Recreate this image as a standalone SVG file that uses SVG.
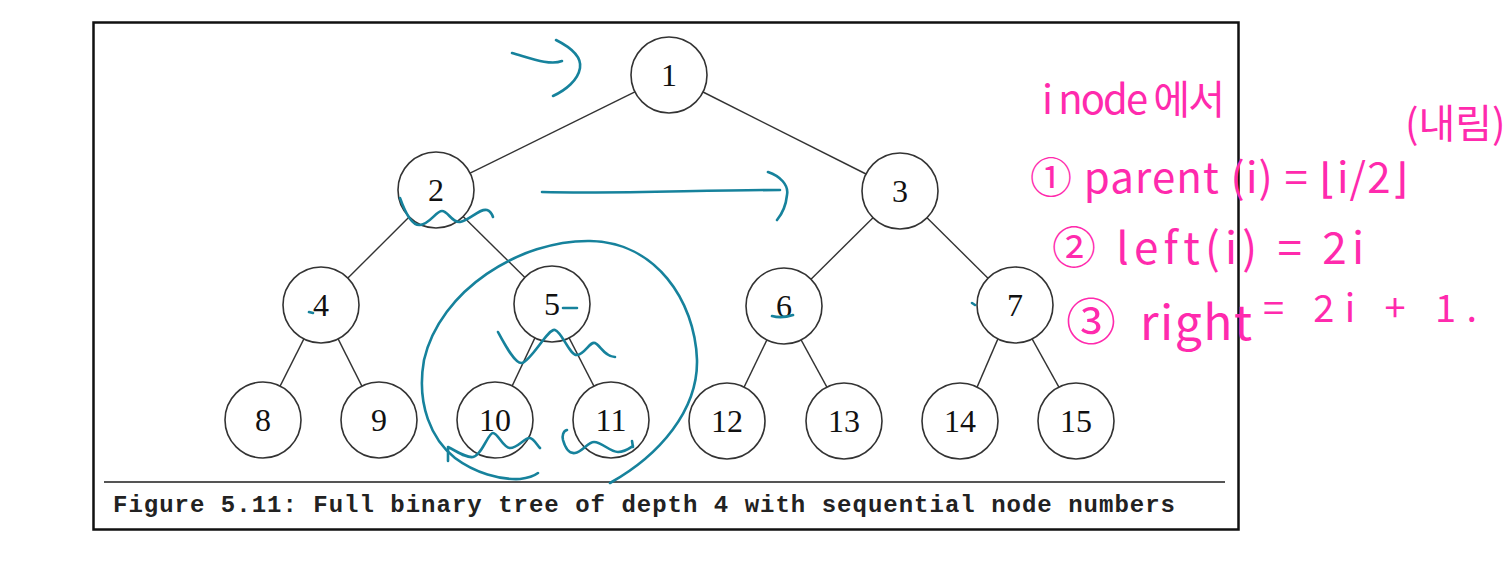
<svg xmlns="http://www.w3.org/2000/svg" width="1508" height="562" viewBox="0 0 1508 562">
<style>
.node circle{fill:#fff;stroke:#333;stroke-width:1.6}
.node text{font-family:"Liberation Serif","Times New Roman",serif;font-size:32px;fill:#111;text-anchor:middle}
.edge{stroke:#333;stroke-width:1.4;fill:none}
.blue{stroke:#16829c;stroke-width:2.6;fill:none;stroke-linecap:round;stroke-linejoin:round}
.pink{font-family:"Noto Sans CJK KR","DejaVu Sans",sans-serif;fill:#ff2aad;font-weight:400}
</style>
<rect x="0" y="0" width="1508" height="562" fill="#fff"/>
<rect id="frame" x="93.5" y="22.5" width="1145" height="507" fill="none" stroke="#111" stroke-width="2.5"/>
<line x1="104" y1="482" x2="1225" y2="482" stroke="#555" stroke-width="2"/>
<text x="113" y="512" textLength="1062" font-family="Liberation Mono,'Courier New',monospace" font-weight="bold" font-size="24" fill="#222">Figure 5.11: Full binary tree of depth 4 with sequential node numbers</text>
<g id="connectors">
<line class="edge" x1="634.9" y1="91.8" x2="470.1" y2="173.2"/>
<line class="edge" x1="703" y1="92" x2="866" y2="174"/>
<line class="edge" x1="409.1" y1="216.9" x2="347.9" y2="278.1"/>
<line class="edge" x1="463.1" y1="216.6" x2="524.9" y2="277.4"/>
<line class="edge" x1="873" y1="217.8" x2="811" y2="279.2"/>
<line class="edge" x1="927" y1="217.8" x2="988" y2="278.2"/>
<line class="edge" x1="303.9" y1="338.9" x2="280.1" y2="386.1"/>
<line class="edge" x1="338.1" y1="338.9" x2="361.9" y2="386.1"/>
<line class="edge" x1="534.9" y1="337.9" x2="512.1" y2="386.1"/>
<line class="edge" x1="569.1" y1="337.9" x2="593.9" y2="386.1"/>
<line class="edge" x1="766.9" y1="339.9" x2="744.1" y2="387.1"/>
<line class="edge" x1="801.1" y1="339.9" x2="826.9" y2="387.1"/>
<line class="edge" x1="997.9" y1="338.9" x2="977.1" y2="387.1"/>
<line class="edge" x1="1032.1" y1="338.9" x2="1058.9" y2="387.1"/>
</g>
<g id="n1" class="node"><circle cx="669" cy="75" r="38"/><text x="669" y="86">1</text></g>
<g id="n2" class="node"><circle cx="436" cy="190" r="38"/><text x="436" y="201">2</text></g>
<g id="n3" class="node"><circle cx="900" cy="191" r="38"/><text x="900" y="202">3</text></g>
<g id="n4" class="node"><circle cx="321" cy="305" r="38"/><text x="321" y="316">4</text></g>
<g id="n5" class="node"><circle cx="552" cy="304" r="38"/><text x="552" y="315">5</text></g>
<g id="n6" class="node"><circle cx="784" cy="306" r="38"/><text x="784" y="317">6</text></g>
<g id="n7" class="node"><circle cx="1015" cy="305" r="38"/><text x="1015" y="316">7</text></g>
<g id="n8" class="node"><circle cx="263" cy="420" r="38"/><text x="263" y="431">8</text></g>
<g id="n9" class="node"><circle cx="379" cy="420" r="38"/><text x="379" y="431">9</text></g>
<g id="n10" class="node"><circle cx="495" cy="420" r="38"/><text x="495" y="431">10</text></g>
<g id="n11" class="node"><circle cx="611" cy="420" r="38"/><text x="611" y="431">11</text></g>
<g id="n12" class="node"><circle cx="727" cy="421" r="38"/><text x="727" y="432">12</text></g>
<g id="n13" class="node"><circle cx="844" cy="421" r="38"/><text x="844" y="432">13</text></g>
<g id="n14" class="node"><circle cx="960" cy="421" r="38"/><text x="960" y="432">14</text></g>
<g id="n15" class="node"><circle cx="1076" cy="421" r="38"/><text x="1076" y="432">15</text></g>
<g id="blue-marks">
<path class="blue" d="M 512 53 C 530 58, 550 66, 562 61 M 556 40 C 568 46, 582 56, 580 68 C 578 80, 566 90, 553 96"/>
<path class="blue" d="M 400 198 C 405 212, 412 226, 420 225 C 430 224, 436 211, 442 211 C 448 211, 452 223, 460 222 C 470 220, 480 208, 487 210 C 490 211, 492 214, 493 217"/>
<path class="blue" d="M 542 192 C 620 194, 700 190, 780 190 M 768 172 C 780 176, 789 185, 787 195 C 786 205, 782 214, 777 220"/>
<path class="blue" d="M 610 483 C 660 455, 698 410, 697 360 C 695 300, 655 242, 590 241 C 520 240, 440 290, 424 360 C 416 405, 432 440, 455 458 C 475 473, 500 480, 520 479 C 528 478, 534 476, 538 473"/>
<path class="blue" d="M 498 332 C 505 345, 515 364, 522 363 C 532 360, 548 328, 555 330 C 562 332, 570 356, 577 355 C 585 354, 590 341, 595 343 C 600 345, 605 357, 615 357"/>
<path class="blue" d="M 448 461 L 448 447 C 458 452, 466 458, 473 457 C 482 455, 488 433, 493 433 C 498 433, 503 448, 510 448 C 518 448, 525 437, 530 438 C 534 439, 537 445, 540 448"/>
<path class="blue" d="M 567 430 C 563 431, 562 436, 563 440 C 565 447, 569 454, 575 453 C 582 452, 588 442, 594 442 C 602 442, 610 452, 618 452 C 625 452, 630 448, 633 446 M 632 441 L 633 447"/>
<path class="blue" d="M 563 308 L 577 308 M 772 316 C 779 318, 787 317, 793 315 M 309 312 L 313 313 M 972 303 L 975 305"/>
</g>
<g id="pink-notes">
<text class="pink" x="1042" y="114" font-size="40" textLength="183">i node 에서</text>
<text class="pink" x="1405" y="138" font-size="40">(내림)</text>
<text class="pink" x="1030" y="193" font-size="42" textLength="378">① parent (i) = ⌊i/2⌋</text>
<text class="pink" x="1052" y="264" font-size="44" textLength="312">② left(i) = 2i</text>
<text class="pink" x="1066" y="340" font-size="50">③</text>
<text class="pink" x="1140" y="340" font-size="48" textLength="112">right</text>
<text class="pink" x="1263" y="322" font-size="38" textLength="214">= 2i + 1.</text>
</g>
</svg>
